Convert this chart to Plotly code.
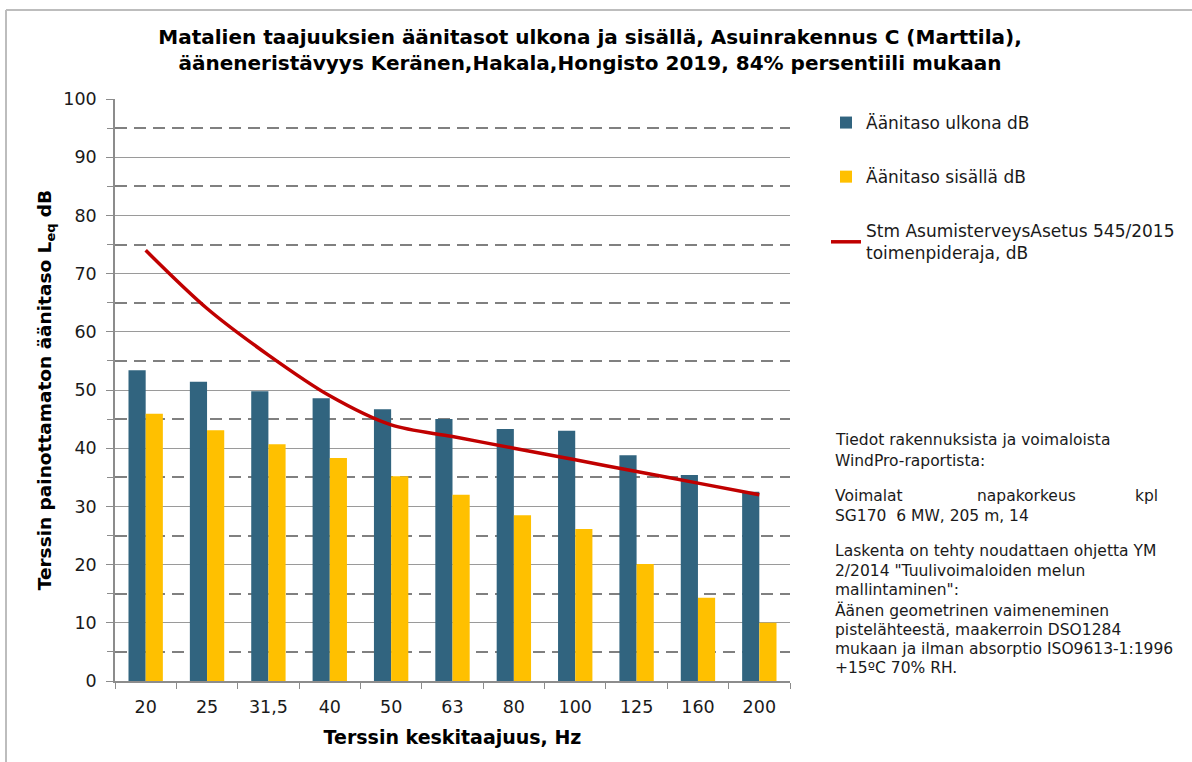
import plotly.graph_objects as go

# Third-octave centre frequencies (Hz)
freqs = ["20", "25", "31,5", "40", "50", "63", "80", "100", "125", "160", "200"]

# Sound levels, dB
outdoor = [53.4, 51.4, 49.8, 48.6, 46.7, 45.0, 43.3, 43.0, 38.8, 35.4, 32.5]
indoor = [45.9, 43.1, 40.7, 38.3, 35.2, 32.0, 28.5, 26.1, 20.1, 14.3, 10.0]
action_limit = [74, 64, 56, 49, 44, 42, 40, 38, 36, 34, 32]

FONT = "DejaVu Sans"
TXT = "#1a1a1a"

# plot-area geometry in pixels, used to place the side notes
L, R, T, B = 115, 790, 99, 681


def px(xp):
    return (xp - L) / (R - L)


def py(yp):
    return (B - yp) / (B - T)


fig = go.Figure()
fig.add_trace(go.Bar(x=freqs, y=outdoor, name="Äänitaso ulkona dB",
                     marker=dict(color="#31647f", line=dict(width=0)),
                     legendgroup="a"))
fig.add_trace(go.Bar(x=freqs, y=indoor, name="Äänitaso sisällä dB",
                     marker=dict(color="#ffc000", line=dict(width=0)),
                     legendgroup="b"))
fig.add_trace(go.Scatter(x=freqs, y=action_limit, mode="lines",
                         name="Stm AsumisterveysAsetus 545/2015<br>toimenpideraja, dB",
                         line=dict(color="#c00000", width=3.5, shape="spline", smoothing=0.9),
                         legendgroup="c"))

fig.update_layout(
    width=1192, height=762,
    margin=dict(l=L, r=1192 - R, t=T, b=762 - B),
    paper_bgcolor="white", plot_bgcolor="white",
    font=dict(family=FONT, color=TXT, size=17),
    barmode="group", bargap=0.44, bargroupgap=0,
    showlegend=True,
    legend=dict(x=px(826), y=py(105), xanchor="left", yanchor="top",
                font=dict(family=FONT, size=17, color=TXT),
                tracegroupgap=29, traceorder="grouped",
                bgcolor="rgba(0,0,0,0)"),
    title=dict(
        text="Matalien taajuuksien äänitasot ulkona ja sisällä, Asuinrakennus C (Marttila),"
             "<br>ääneneristävyys Keränen,Hakala,Hongisto 2019, 84% persentiili mukaan",
        x=0.495, xanchor="center", y=1 - 44 / 762, yanchor="top",
        font=dict(family=FONT, size=20, color="#000000", weight="bold"),
    ),
)

fig.update_xaxes(
    type="category", showline=True, linecolor="#8c8c8c", linewidth=1.5,
    ticks="outside", tickson="boundaries", ticklen=6, tickcolor="#8c8c8c",
    tickfont=dict(size=17.5, color=TXT), ticklabelstandoff=9, showgrid=False,
    title=dict(text="<b>Terssin keskitaajuus, Hz</b>", font=dict(size=19, color="#000000"),
               standoff=15),
)
fig.update_yaxes(
    range=[0, 100], dtick=10, showline=True, linecolor="#8c8c8c", linewidth=1.5,
    ticks="outside", ticklen=7, tickcolor="#8c8c8c",
    tickfont=dict(size=17.5, color=TXT), ticklabelstandoff=6,
    showgrid=True, gridcolor="#9a9a9a", gridwidth=1.2,
    zeroline=False,
    minor=dict(dtick=5, showgrid=True, gridcolor="#808080", gridwidth=1.5,
               griddash="12px,7px", ticks="outside", ticklen=6, tickcolor="#8c8c8c"),
    title=dict(text="<b>Terssin painottamaton äänitaso L<sub>eq</sub> dB</b>",
               font=dict(size=18.5, color="#000000"), standoff=7),
)

# Notes beside the plot, one annotation per line
note_font = dict(family=FONT, size=15.5, color=TXT)
note_lines = [
    ("Tiedot rakennuksista ja voimaloista", 440),
    ("WindPro-raportista:", 461),
    ("SG170  6 MW, 205 m, 14", 516),
    ("Laskenta on tehty noudattaen ohjetta YM", 551),
    ("2/2014 \"Tuulivoimaloiden melun", 571),
    ("mallintaminen\":", 590),
    ("Äänen geometrinen vaimeneminen", 610),
    ("pistelähteestä, maakerroin DSO1284", 630),
    ("mukaan ja ilman absorptio ISO9613-1:1996", 649),
    ("+15ºC 70% RH.", 668),
]
for text, yp in note_lines:
    fig.add_annotation(xref="paper", yref="paper", x=px(833), y=py(yp),
                       xanchor="left", yanchor="middle", align="left",
                       showarrow=False, font=note_font, text=text)
for text, xp, anchor in [("Voimalat", 833, "left"), ("napakorkeus", 975, "left"),
                         ("kpl", 1160, "right")]:
    fig.add_annotation(xref="paper", yref="paper", x=px(xp), y=py(496),
                       xanchor=anchor, yanchor="middle", align="left",
                       showarrow=False, font=note_font, text=text)

# Chart-area frame
fig.add_shape(type="line", xref="paper", yref="paper", x0=px(6), x1=px(1300), y0=py(10), y1=py(10),
              line=dict(color="#bdbdbd", width=2))
fig.add_shape(type="line", xref="paper", yref="paper", x0=px(6), x1=px(6), y0=py(800), y1=py(10),
              line=dict(color="#bdbdbd", width=2))

fig.write_html("out.html")
